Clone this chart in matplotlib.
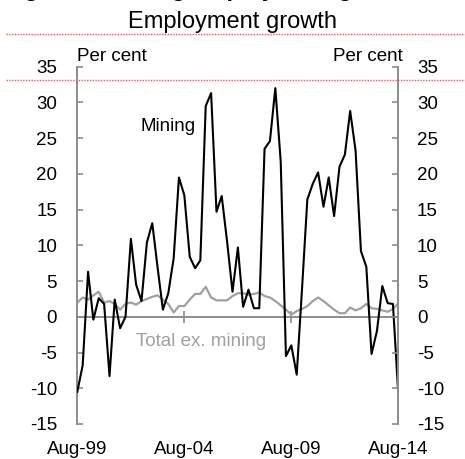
import numpy as np
import pandas as pd
import matplotlib
matplotlib.use("Agg")
import matplotlib.pyplot as plt
from matplotlib.lines import Line2D

plt.rcParams['font.family'] = ['Liberation Sans', 'DejaVu Sans']

# quarterly, Aug-99 to Aug-14, year-ended % change
dates = pd.date_range("1999-08-01", periods=61, freq="3MS")
mining = [-10.5, -6.8, 6.3, -0.4, 2.6, 1.8, -8.3, 2.4, -1.6, 0.0,
          10.9, 4.5, 2.2, 10.4, 13.1, 7.0, 1.0, 3.3, 8.2, 19.5,
          17.0, 8.4, 6.8, 7.9, 29.5, 31.3, 14.7, 16.9, 10.5, 3.5,
          9.7, 1.4, 3.8, 1.2, 1.2, 23.5, 24.6, 32.0, 21.7, -5.5,
          -4.0, -8.1, 4.1, 16.4, 18.6, 20.2, 15.4, 19.5, 14.1, 21.0,
          22.7, 28.8, 23.3, 9.2, 7.0, -5.2, -2.0, 4.3, 1.9, 1.8,
          -10.9]
total_ex_mining = [2.0, 2.7, 2.4, 3.0, 3.5, 2.0, 2.2, 1.8, 1.0, 1.8,
                   2.0, 1.7, 2.2, 2.5, 2.8, 3.0, 2.4, 1.8, 0.6, 1.5,
                   1.5, 2.4, 3.2, 3.2, 4.2, 2.7, 2.3, 2.3, 2.3, 2.9,
                   3.3, 3.3, 3.1, 3.2, 3.4, 2.9, 2.7, 2.2, 1.6, 1.0,
                   0.3, 0.8, 1.1, 1.5, 2.2, 2.7, 2.2, 1.6, 1.0, 0.5,
                   0.5, 1.3, 0.9, 1.2, 1.8, 1.2, 1.1, 0.9, 0.7, 1.1,
                   1.9]
xtick_dates = pd.to_datetime(["1999-08-01", "2004-08-01", "2009-08-01", "2014-08-01"])
xtick_labels = ["Aug-99", "Aug-04", "Aug-09", "Aug-14"]
yticks = np.arange(-15, 36, 5)

axis_grey = "#8c8c8c"
fs = 13.5

fig = plt.figure(figsize=(4.65, 4.59), dpi=100, facecolor="white")
ax = fig.add_axes([0.1662, 0.0763, 0.8566 - 0.1662, 0.8547 - 0.0763])

ax.plot(dates, total_ex_mining, color="#a0a0a0", lw=1.6, zorder=2)
ax.plot(dates, mining, color="black", lw=1.5, zorder=3)

ax.set_xlim(dates[0], dates[-1])
ax.set_ylim(-15, 35)

for s in ["top", "right"]:
    ax.spines[s].set_visible(False)
ax.spines["left"].set_color(axis_grey)
ax.spines["left"].set_linewidth(1.4)
ax.spines["bottom"].set_position(("data", 0))
ax.spines["bottom"].set_color(axis_grey)
ax.spines["bottom"].set_linewidth(1.4)

ax.set_xticks(xtick_dates)
ax.set_xticklabels([])
ax.tick_params(axis="x", direction="inout", length=8, width=1.2, color=axis_grey)
ax.set_yticks(yticks)
ax.set_yticklabels([str(v) for v in yticks], fontsize=fs)
ax.tick_params(axis="y", direction="in", length=4, width=1.2, color=axis_grey, pad=14.5)

# date labels at the bottom of the panel
sec = ax.secondary_xaxis("bottom")
sec.set_xticks(xtick_dates)
sec.set_xticklabels(xtick_labels, fontsize=fs)
sec.tick_params(length=0, pad=12)
sec.spines["bottom"].set_visible(False)

ax2 = ax.twinx()
ax2.set_ylim(-15, 35)
ax2.set_yticks(yticks)
ax2.set_yticklabels([str(v) for v in yticks], fontsize=fs)
ax2.tick_params(axis="y", direction="in", length=4, width=1.2, color=axis_grey, pad=13.5)
for s in ["top", "bottom", "left"]:
    ax2.spines[s].set_visible(False)
ax2.spines["right"].set_color(axis_grey)
ax2.spines["right"].set_linewidth(1.4)

ax.text(0.0, 1.004, "Per cent", transform=ax.transAxes, ha="left", va="bottom", fontsize=fs)
ax.text(1.015, 1.004, "Per cent", transform=ax.transAxes, ha="right", va="bottom", fontsize=fs)

ax.text(dates[17], 26.6, "Mining", ha="center", va="center", fontsize=fs, color="black")
ax.text(dates[11], -3.5, "Total ex. mining", ha="left", va="center", fontsize=fs, color="#a0a0a0")

fig.text(0.5, 1 - 22 / 459, "Employment growth", ha="center", va="center", fontsize=17)

# clipped heading from the page above (only its descenders show)
fig.text(0.006, 1 + 4 / 459, "Figure 6: Mining employment growth", ha="left", va="baseline",
         fontsize=17, fontweight="bold")

# red guide lines from the source page
for yp in [34.3, 80.0]:
    fig.add_artist(Line2D([6 / 465, 1.0], [1 - yp / 459, 1 - yp / 459], transform=fig.transFigure,
                          color="#e06060", lw=1.0, ls=(0, (1, 1))))

fig.savefig("out.png", dpi=100, facecolor="white")
